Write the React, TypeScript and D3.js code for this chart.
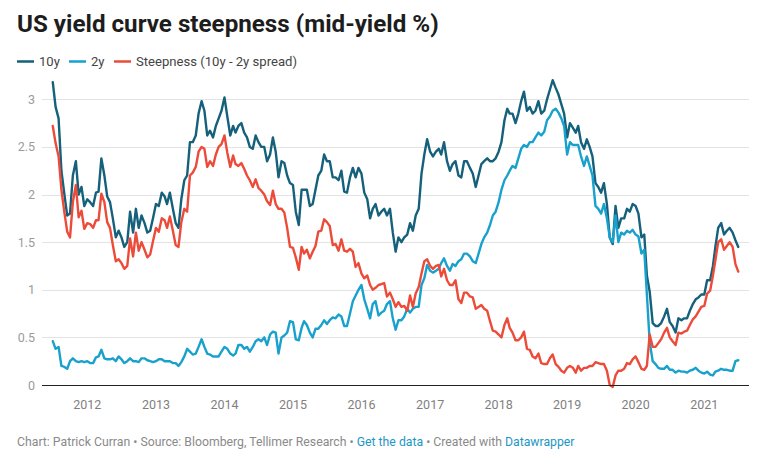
import React from "react";
import * as d3 from "d3";

// Semi-monthly observations (1st and 16th of each month), Jul 2011 – Jul 2021
const START_YEAR = 2011;
const START_MONTH = 6; // July (0-based)

const tenYear = [
  3.18, 2.92, 2.8, 2.25, 2.0, 1.78, 1.8, 2.2, 2.35, 2.0, 2.08, 1.88,
  1.95, 1.92, 1.88, 2.02, 2.03, 2.38, 2.2, 1.98, 1.92, 1.75, 1.55, 1.62, 1.55, 1.45, 1.5, 1.82, 1.6, 1.85, 1.65, 1.78, 1.7, 1.6, 1.62, 1.75,
  1.9, 1.88, 2.02, 1.98, 1.9, 2.02, 1.85, 1.7, 1.65, 1.95, 2.15, 2.2, 2.55, 2.55, 2.62, 2.85, 2.98, 2.88, 2.62, 2.67, 2.6, 2.72, 2.8, 2.88,
  3.02, 2.82, 2.62, 2.72, 2.65, 2.72, 2.75, 2.65, 2.6, 2.5, 2.48, 2.62, 2.55, 2.5, 2.5, 2.35, 2.42, 2.6, 2.45, 2.18, 2.35, 2.33, 2.2, 2.12,
  2.1, 1.82, 1.68, 2.05, 2.05, 2.05, 1.88, 1.9, 2.05, 2.2, 2.25, 2.42, 2.35, 2.35, 2.18, 2.18, 2.15, 2.25, 2.03, 2.02, 2.18, 2.28, 2.18, 2.28,
  2.22, 2.02, 1.95, 1.75, 1.85, 1.9, 1.78, 1.82, 1.85, 1.78, 1.85, 1.6, 1.4, 1.55, 1.5, 1.55, 1.58, 1.7, 1.62, 1.78, 1.85, 2.22, 2.42, 2.58,
  2.45, 2.4, 2.45, 2.48, 2.42, 2.55, 2.35, 2.25, 2.32, 2.35, 2.2, 2.18, 2.35, 2.35, 2.28, 2.22, 2.08, 2.2, 2.32, 2.35, 2.38, 2.35, 2.35, 2.38,
  2.45, 2.55, 2.78, 2.9, 2.85, 2.85, 2.75, 2.85, 2.98, 3.08, 2.88, 2.92, 2.85, 2.88, 2.98, 2.85, 2.88, 3.0, 3.1, 3.2, 3.12, 3.05, 2.95, 2.85,
  2.6, 2.75, 2.7, 2.65, 2.72, 2.55, 2.48, 2.58, 2.5, 2.4, 2.12, 2.08, 2.02, 2.12, 1.9, 1.55, 1.48, 1.88, 1.65, 1.75, 1.75, 1.85, 1.82, 1.9,
  1.88, 1.8, 1.55, 1.58, 1.15, 0.98, 0.65, 0.62, 0.62, 0.65, 0.72, 0.8, 0.66, 0.62, 0.55, 0.7, 0.68, 0.7, 0.7, 0.78, 0.85, 0.9, 0.92, 0.95,
  0.95, 1.1, 1.1, 1.25, 1.45, 1.65, 1.7, 1.58, 1.62, 1.65, 1.6, 1.52,
  1.45,
];

const twoYear = [
  0.46, 0.38, 0.4, 0.2, 0.19, 0.17, 0.25, 0.28, 0.25, 0.24, 0.25, 0.24,
  0.25, 0.23, 0.23, 0.29, 0.3, 0.37, 0.28, 0.27, 0.27, 0.28, 0.25, 0.3, 0.27, 0.23, 0.25, 0.28, 0.25, 0.25, 0.24, 0.28, 0.28, 0.26, 0.25, 0.24,
  0.25, 0.27, 0.27, 0.25, 0.25, 0.25, 0.23, 0.23, 0.2, 0.24, 0.3, 0.38, 0.35, 0.32, 0.33, 0.4, 0.48, 0.4, 0.33, 0.32, 0.3, 0.3, 0.3, 0.35,
  0.4, 0.38, 0.33, 0.31, 0.33, 0.42, 0.42, 0.38, 0.4, 0.35, 0.4, 0.46, 0.48, 0.46, 0.5, 0.42, 0.53, 0.56, 0.55, 0.33, 0.5, 0.52, 0.55, 0.67,
  0.66, 0.48, 0.47, 0.6, 0.67, 0.63, 0.55, 0.5, 0.59, 0.59, 0.63, 0.68, 0.64, 0.68, 0.71, 0.7, 0.74, 0.72, 0.62, 0.62, 0.75, 0.88, 0.94, 1.0,
  1.05, 0.9, 0.8, 0.7, 0.85, 0.88, 0.73, 0.76, 0.78, 0.85, 0.88, 0.7, 0.58, 0.68, 0.68, 0.72, 0.8, 0.76, 0.8, 0.82, 0.82, 1.05, 1.12, 1.26,
  1.2, 1.18, 1.2, 1.22, 1.28, 1.33, 1.25, 1.2, 1.27, 1.25, 1.3, 1.32, 1.38, 1.38, 1.35, 1.3, 1.28, 1.38, 1.48, 1.55, 1.6, 1.68, 1.78, 1.82,
  1.92, 2.05, 2.15, 2.2, 2.25, 2.3, 2.28, 2.38, 2.48, 2.52, 2.5, 2.55, 2.55, 2.6, 2.65, 2.62, 2.66, 2.78, 2.82, 2.88, 2.9, 2.86, 2.8, 2.72,
  2.42, 2.55, 2.52, 2.52, 2.52, 2.4, 2.3, 2.4, 2.3, 2.2, 1.88, 1.85, 1.8, 1.9, 1.75, 1.55, 1.5, 1.78, 1.5, 1.6, 1.58, 1.62, 1.6, 1.63,
  1.58, 1.56, 1.38, 1.42, 0.95, 0.45, 0.25, 0.22, 0.18, 0.17, 0.17, 0.2, 0.16, 0.16, 0.13, 0.15, 0.14, 0.14, 0.13, 0.15, 0.16, 0.18, 0.15, 0.13,
  0.12, 0.14, 0.11, 0.1, 0.14, 0.15, 0.17, 0.16, 0.16, 0.15, 0.15, 0.25,
  0.26,
];

const steepness = [
  2.72, 2.54, 2.4, 2.05, 1.81, 1.61, 1.55, 1.92, 2.1, 1.76, 1.83, 1.64,
  1.7, 1.69, 1.65, 1.73, 1.73, 2.01, 1.92, 1.71, 1.65, 1.47, 1.3, 1.32, 1.28, 1.22, 1.25, 1.54, 1.35, 1.6, 1.41, 1.5, 1.42, 1.34, 1.37, 1.51,
  1.65, 1.61, 1.75, 1.73, 1.65, 1.77, 1.62, 1.47, 1.45, 1.71, 1.85, 1.82, 2.2, 2.23, 2.29, 2.45, 2.5, 2.48, 2.29, 2.35, 2.3, 2.42, 2.5, 2.53,
  2.62, 2.44, 2.29, 2.41, 2.32, 2.3, 2.33, 2.27, 2.2, 2.15, 2.08, 2.16, 2.07, 2.04, 2.0, 1.93, 1.89, 2.04, 1.9, 1.85, 1.85, 1.81, 1.65, 1.45,
  1.44, 1.34, 1.21, 1.45, 1.38, 1.42, 1.33, 1.4, 1.46, 1.61, 1.62, 1.74, 1.71, 1.67, 1.47, 1.48, 1.41, 1.53, 1.41, 1.4, 1.43, 1.4, 1.24, 1.28,
  1.17, 1.12, 1.15, 1.05, 1.0, 1.02, 1.05, 1.06, 1.07, 0.93, 0.97, 0.9, 0.82, 0.87, 0.82, 0.83, 0.78, 0.94, 0.82, 0.96, 1.03, 1.17, 1.3, 1.32,
  1.25, 1.22, 1.25, 1.26, 1.14, 1.22, 1.1, 1.05, 1.05, 1.1, 0.9, 0.86, 0.97, 0.97, 0.93, 0.92, 0.8, 0.82, 0.84, 0.8, 0.78, 0.67, 0.57, 0.56,
  0.53, 0.5, 0.63, 0.7, 0.6, 0.55, 0.47, 0.47, 0.5, 0.56, 0.38, 0.37, 0.3, 0.28, 0.33, 0.23, 0.22, 0.22, 0.28, 0.32, 0.22, 0.19, 0.15, 0.13,
  0.18, 0.2, 0.18, 0.13, 0.2, 0.15, 0.18, 0.18, 0.2, 0.2, 0.24, 0.23, 0.22, 0.22, 0.15, 0.0, -0.02, 0.1, 0.15, 0.15, 0.17, 0.23, 0.22, 0.27,
  0.3, 0.24, 0.17, 0.16, 0.2, 0.53, 0.4, 0.4, 0.44, 0.48, 0.55, 0.6, 0.5, 0.46, 0.42, 0.55, 0.54, 0.56, 0.57, 0.63, 0.69, 0.72, 0.77, 0.82,
  0.83, 0.96, 0.99, 1.15, 1.31, 1.5, 1.53, 1.42, 1.46, 1.5, 1.45, 1.27,
  1.19,
];

const yTicks = [0, 0.5, 1, 1.5, 2, 2.5, 3];
const yearTicks = [2012, 2013, 2014, 2015, 2016, 2017, 2018, 2019, 2020, 2021];

const seriesNames = ["10y", "2y", "Steepness (10y - 2y spread)"];
const seriesColors = ["#15607a", "#18a1cd", "#ed4b39"];

const W = 773;
const H = 474;
const FONT = "Roboto, 'Noto Sans', sans-serif";

export default function App() {
  const dates = tenYear.map((_, i) => {
    const m = START_MONTH + Math.floor(i / 2);
    return new Date(START_YEAR, m, i % 2 === 0 ? 1 : 16);
  });

  const x = d3
    .scaleTime()
    .domain([new Date(2012, 0, 1), new Date(2021, 0, 1)])
    .range([87.3, 704.3]);
  const y = d3.scaleLinear().domain([0, 3]).range([385, 99.3]);

  const plotLeft = 42;
  const plotRight = 749;

  const line = d3
    .line<number>()
    .x((_, i) => x(dates[i]))
    .y((v) => y(v));

  const series = [tenYear, twoYear, steepness];

  const legendItems = [
    { x: 17, tx: 39 },
    { x: 69, tx: 91 },
    { x: 114, tx: 136 },
  ];

  return (
    <svg
      width={W}
      height={H}
      style={{ position: "absolute", left: 0, top: 0, background: "#fff" }}
      fontFamily={FONT}
    >
      <text x={17} y={32} fontSize={24.2} fontWeight={700} fill="#1d1d1d">
        US yield curve steepness (mid-yield %)
      </text>

      {legendItems.map((it, i) => (
        <g key={i}>
          <line
            x1={it.x}
            x2={it.x + 17}
            y1={61.5}
            y2={61.5}
            stroke={seriesColors[i]}
            strokeWidth={2.5}
          />
          <text x={it.tx} y={66} fontSize={13.1} fill="#444">
            {seriesNames[i]}
          </text>
        </g>
      ))}

      {yTicks
        .filter((t) => t !== 0)
        .map((t) => (
          <line
            key={t}
            x1={plotLeft}
            x2={plotRight}
            y1={Math.round(y(t)) + 0.5}
            y2={Math.round(y(t)) + 0.5}
            stroke="#e3e3e3"
            strokeWidth={1}
          />
        ))}
      {yTicks.map((t) => (
        <text
          key={t}
          x={35}
          y={y(t) + 4.5}
          textAnchor="end"
          fontSize={12.5}
          fill="#9b9b9b"
        >
          {String(t)}
        </text>
      ))}

      {yearTicks.map((yr) => (
        <text
          key={yr}
          x={x(new Date(yr, 0, 1))}
          y={409}
          textAnchor="middle"
          fontSize={12.5}
          fill="#7f7f7f"
        >
          {yr}
        </text>
      ))}

      {series.map((s, i) => (
        <path
          key={i}
          d={line(s) || ""}
          fill="none"
          stroke={seriesColors[i]}
          strokeWidth={2.4}
          strokeLinejoin="round"
          strokeLinecap="round"
        />
      ))}

      <line
        x1={plotLeft}
        x2={plotRight}
        y1={385.5}
        y2={385.5}
        stroke="#222"
        strokeWidth={1.2}
      />

      <text x={17} y={446} fontSize={12.25} fill="#8a8a8a">
        <tspan>Chart: Patrick Curran • Source: Bloomberg, Tellimer Research • </tspan>
        <tspan fill="#1d97c4">Get the data</tspan>
        <tspan> • Created with </tspan>
        <tspan fill="#1d97c4">Datawrapper</tspan>
      </text>
    </svg>
  );
}
